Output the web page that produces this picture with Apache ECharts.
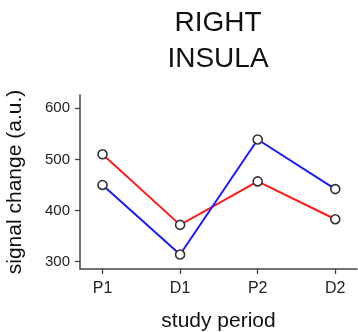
<!DOCTYPE html>
<html>
<head>
<meta charset="utf-8">
<script src="https://cdn.jsdelivr.net/npm/echarts@6/dist/echarts.min.js"></script>
<style>
  html, body { margin: 0; padding: 0; background: #fff; }
  #chart { width: 358px; height: 332px; }
</style>
</head>
<body>
<div id="chart"></div>
<script>
// Study periods along the x axis
const periods = ['P1', 'D1', 'P2', 'D2'];
// Signal change for the two conditions (a.u.)
const redSeries = [510, 372, 457, 383];
const blueSeries = [450, 314, 539, 442];
// Labelled ticks on the y axis
const yTicks = [300, 400, 500, 600];

const positions = periods.map((_, i) => i);
const toPoints = vals => vals.map((v, i) => [positions[i], v]);

const chart = echarts.init(document.getElementById('chart'), null, { renderer: 'canvas' });

const fontFamily = '"Liberation Sans", Arial, Helvetica, sans-serif';
const axisColor = '#444';

const marker = {
  symbol: 'circle',
  symbolSize: 9,
  itemStyle: { color: '#fff', borderColor: '#333', borderWidth: 1.6 }
};

chart.setOption({
  animation: false,
  backgroundColor: '#fff',
  title: {
    text: 'RIGHT\nINSULA',
    left: 213,
    top: 0,
    textAlign: 'center',
    textStyle: {
      fontFamily, fontSize: 28, fontWeight: 'normal', color: '#111', lineHeight: 36
    }
  },
  grid: { left: 80, top: 95, right: 1, bottom: 63, containLabel: false, outerBoundsMode: 'none' },
  xAxis: {
    type: 'value',
    min: -0.29,
    max: 3.28,
    name: 'study period',
    nameLocation: 'middle',
    nameGap: 42,
    nameTextStyle: { fontFamily, fontSize: 21, color: '#111' },
    splitLine: { show: false },
    axisLine: { show: true, onZero: false, lineStyle: { color: axisColor, width: 1.5 } },
    axisTick: { show: true, customValues: positions, length: 5, inside: false, lineStyle: { color: axisColor, width: 1.3 } },
    axisLabel: {
      customValues: positions,
      formatter: v => periods[Math.round(v)],
      fontFamily, fontSize: 16, color: '#222', margin: 12
    }
  },
  yAxis: {
    type: 'value',
    min: 285.7,
    max: 626,
    name: 'signal change (a.u.)',
    nameLocation: 'middle',
    nameGap: 54,
    nameTextStyle: { fontFamily, fontSize: 21, color: '#111' },
    splitLine: { show: false },
    axisLine: { show: true, onZero: false, lineStyle: { color: axisColor, width: 1.5 } },
    axisTick: { show: true, customValues: yTicks, length: 5, lineStyle: { color: axisColor, width: 1.3 } },
    axisLabel: {
      customValues: yTicks,
      fontFamily, fontSize: 15, color: '#222', margin: 10
    }
  },
  series: [
    Object.assign({
      type: 'line',
      name: 'red',
      data: toPoints(redSeries),
      lineStyle: { color: '#ff1a1a', width: 2 },
      z: 2
    }, marker),
    Object.assign({
      type: 'line',
      name: 'blue',
      data: toPoints(blueSeries),
      lineStyle: { color: '#1a1aff', width: 2 },
      z: 3
    }, marker)
  ]
});
</script>
</body>
</html>
